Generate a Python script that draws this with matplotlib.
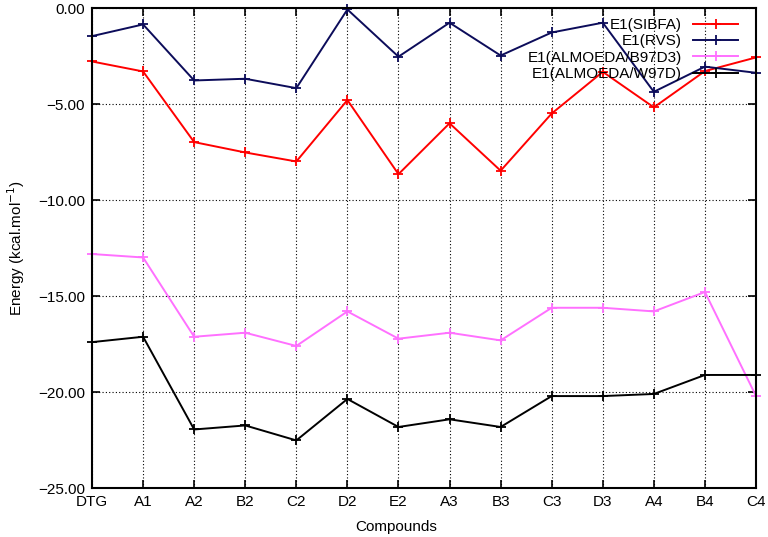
import numpy as np
import matplotlib
matplotlib.use('Agg')
import matplotlib.pyplot as plt

plt.rcParams['font.family'] = ['Liberation Sans', 'DejaVu Sans']

compounds = ['DTG', 'A1', 'A2', 'B2', 'C2', 'D2', 'E2', 'A3', 'B3', 'C3', 'D3', 'A4', 'B4', 'C4']

e1_sibfa = [-2.78, -3.30, -6.98, -7.52, -7.99, -4.79, -8.65, -6.00, -8.47, -5.49, -3.32, -5.17, -3.28, -2.57]
e1_rvs = [-1.46, -0.85, -3.77, -3.68, -4.17, -0.07, -2.53, -0.76, -2.47, -1.27, -0.76, -4.36, -3.05, -3.37]
e1_b97d3 = [-12.81, -12.99, -17.12, -16.91, -17.60, -15.80, -17.22, -16.91, -17.31, -15.61, -15.61, -15.80, -14.79, -20.21]
e1_w97d = [-17.40, -17.12, -21.95, -21.74, -22.52, -20.36, -21.82, -21.42, -21.82, -20.21, -20.21, -20.10, -19.11, -19.11]

series = [
    ('E1(SIBFA)', e1_sibfa, '#ff0000'),
    ('E1(RVS)', e1_rvs, '#0c0c5a'),
    ('E1(ALMOEDA/B97D3)', e1_b97d3, '#ff70ff'),
    ('E1(ALMOEDA/W97D)', e1_w97d, '#000000'),
]

fig = plt.figure(figsize=(7.68, 5.37), dpi=100)
ax = fig.add_axes([0.1198, 0.0912, 0.8646, 0.8937])

x = np.arange(len(compounds))
for name, vals, col in series:
    ax.plot(x, vals, color=col, lw=1.4, marker='+', ms=6.5, mew=1.3, label=name, clip_on=False)

ax.set_xlim(0, len(compounds) - 1)
ax.set_ylim(-25, 0)
ax.set_xticks(x)
ax.set_xticklabels(compounds)
ax.set_yticks(np.arange(-25, 0.1, 5))
ax.set_yticklabels(['\u221225.00', '\u221220.00', '\u221215.00', '\u221210.00', '\u22125.00', '0.00'])
ax.tick_params(direction='in', top=True, right=True, length=6, width=1.2, labelsize=11, pad=5)
ax.grid(True, color='black', linestyle=(0, (1, 2)), lw=0.8)
for s in ax.spines.values():
    s.set_linewidth(1.5)

ax.set_xlabel('Compounds', fontsize=11)
ax.xaxis.set_label_coords(0.458, -0.066)
ax.set_ylabel('Energy (kcal.mol$^{-1}$)', fontsize=11, labelpad=8)

ax.legend(loc='upper right', frameon=False, markerfirst=False, alignment='right',
          fontsize=11, handlelength=3.0, handletextpad=0.7, labelspacing=0.15,
          borderaxespad=0.1, bbox_to_anchor=(0.985, 0.995))

fig.savefig('out.png', dpi=100)
